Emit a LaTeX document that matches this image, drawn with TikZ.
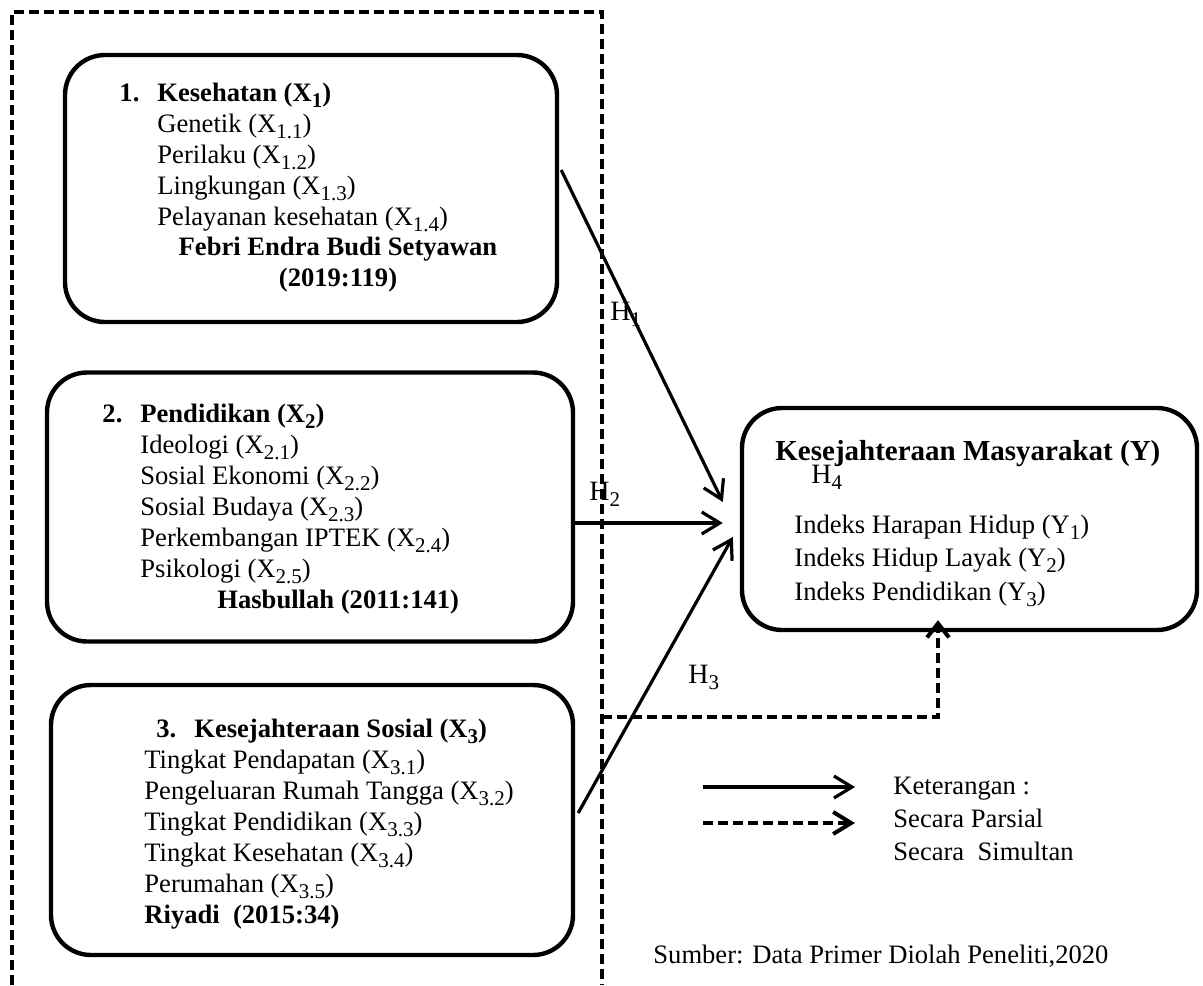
\documentclass[tikz,border=0pt]{standalone}
\usepackage{fontspec}
\setmainfont{Liberation Serif}
\usetikzlibrary{arrows.meta,positioning,calc}

\tikzset{
  kotak/.style={draw, line width=2.2pt, rounded corners=20pt, inner sep=0pt},
  isi/.style={inner sep=0pt, font=\fontsize{13.3}{15.5}\selectfont},
  panah/.style={line width=1.6pt, -{Straight Barb[length=9pt,width=11pt]}},
  putus/.style={line width=2pt, dash pattern=on 5pt off 2.5pt},
  hlabel/.style={inner sep=0pt, font=\fontsize{14}{16}\selectfont}
}
\newcommand{\daftar}[1]{\begin{tabular}[t]{@{}l@{}}#1\end{tabular}}
\newcommand{\tengah}[1]{\begin{tabular}[t]{@{}c@{}}#1\end{tabular}}
\newcommand{\sub}[1]{\raisebox{-3pt}{\fontsize{10.5}{12}\selectfont #1}}

\begin{document}
\begin{tikzpicture}[x=0.5pt,y=-0.5pt]
\useasboundingbox (0,0) rectangle (1203,985);
% bingkai variabel X
\draw[putus] (12,985) -- (12,12) -- (602,12) -- (602,985);
\coordinate (dL) at (602,717);

% X1
\node[kotak, minimum width=246pt, minimum height=133.5pt] (b1) at (311,188.5) {};
\node[isi, anchor=base west] (t1) at (157,101) {\daftar{%
  \llap{\textbf{1.}\hspace{9pt}}\textbf{Kesehatan (X\sub{1})}\\
  Genetik (X\sub{1.1})\\
  Perilaku (X\sub{1.2})\\
  Lingkungan (X\sub{1.3})\\
  Pelayanan kesehatan (X\sub{1.4})}};
\node[isi, anchor=base] (a1) at (338,255) {\tengah{%
  \textbf{Febri Endra Budi Setyawan}\\
  \textbf{(2019:119)}}};

% X2
\node[kotak, minimum width=263pt, minimum height=134.5pt] (b2) at (310,507) {};
\node[isi, anchor=base west] (t2) at (140,422) {\daftar{%
  \llap{\textbf{2.}\hspace{9pt}}\textbf{Pendidikan (X\sub{2})}\\
  Ideologi (X\sub{2.1})\\
  Sosial Ekonomi (X\sub{2.2})\\
  Sosial Budaya (X\sub{2.3})\\
  Perkembangan IPTEK (X\sub{2.4})\\
  Psikologi (X\sub{2.5})}};
\node[isi, anchor=base west] (a2) at (217,608) {\textbf{Hasbullah (2011:141)}};

% X3
\node[kotak, minimum width=261pt, minimum height=135pt] (b3) at (312,820) {};
\node[isi, anchor=base west] (t3) at (144,737) {\daftar{%
  \hspace*{6pt}\textbf{3.}\hspace{9pt}\textbf{Kesejahteraan Sosial (X\sub{3})}\\
  Tingkat Pendapatan (X\sub{3.1})\\
  Pengeluaran Rumah Tangga (X\sub{3.2})\\
  Tingkat Pendidikan (X\sub{3.3})\\
  Tingkat Kesehatan (X\sub{3.4})\\
  Perumahan (X\sub{3.5})\\
  \textbf{Riyadi\ \ (2015:34)}}};

% Y
\node[kotak, minimum width=227.5pt, minimum height=111pt] (bY) at (969.5,519) {};
\node[inner sep=0pt, anchor=base west, font=\fontsize{14.5}{17}\selectfont\bfseries] (tY) at (775,460) {Kesejahteraan Masyarakat (Y)};
\node[isi, font=\fontsize{13.3}{16.75}\selectfont, anchor=base west] (iY) at (794,533) {\daftar{%
  Indeks Harapan Hidup (Y\sub{1})\\
  Indeks Hidup Layak (Y\sub{2})\\
  Indeks Pendidikan (Y\sub{3})}};

% hipotesis
\draw[panah] ([xshift=1pt,yshift=9.25pt]b1.east) -- ([xshift=-8.5pt,yshift=8.5pt]bY.west);
\draw[panah] ([yshift=-8pt]b2.east) -- ([xshift=-8.5pt,yshift=-2pt]bY.west);
\draw[panah] ([xshift=1.5pt,yshift=3.5pt]b3.east) -- ([xshift=-3.5pt,yshift=-9pt]bY.west);
\draw[putus, -{Straight Barb[length=7pt,width=11pt]}] (dL) -| ([xshift=-15.75pt,yshift=6pt]bY.south);

\node[hlabel, anchor=base west] (h1) at (610,320) {H\sub{1}};
\node[hlabel, anchor=base west] (h2) at (589,500) {H\sub{2}};
\node[hlabel, anchor=base west] (h3) at (688,683) {H\sub{3}};
\node[hlabel, anchor=base west] (h4) at (811,483) {H\sub{4}};

% keterangan
\coordinate (p1) at (703,787);
\coordinate (p2) at (855,787);
\coordinate (q1) at (703,823);
\coordinate (q2) at (855,823);
\draw[panah] (p1) -- (p2);
\draw[putus, -{Straight Barb[length=9pt,width=11pt]}] (q1) -- (q2);
\node[isi, font=\fontsize{13.3}{16.5}\selectfont, anchor=base west] (ket) at (893,794) {\daftar{%
  Keterangan :\\
  Secara Parsial\\
  Secara\ \ Simultan}};
\node[isi, anchor=base west] (sbr) at (653,963) {Sumber: Data Primer Diolah Peneliti,2020};
\end{tikzpicture}
\end{document}
